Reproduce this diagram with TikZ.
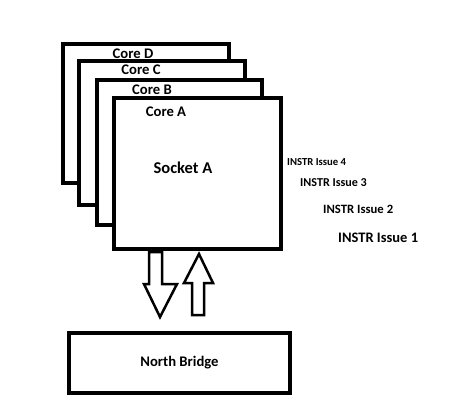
\documentclass[tikz,border=0pt]{standalone}
\usepackage{fontspec}
\setmainfont{Carlito}
\begin{document}
\begin{tikzpicture}[x=1pt,y=-1pt,
  corebox/.style={draw=black,fill=white,line width=4.5pt,line join=miter},
  lbl/.style={font=\bfseries\fontsize{14.67}{16}\selectfont,inner sep=0pt,anchor=center},
  instr/.style={font=\bfseries,inner sep=0pt,anchor=west},
  fatarrow/.style={draw=black,fill=white,line width=2.5pt,line join=miter}]
\useasboundingbox (0,0) rectangle (456,405);
\path[fill=white] (0,0) rectangle (456,405);
% stacked cores
\draw[corebox] (63,44) rectangle (229,183);
\draw[corebox] (79,61) rectangle (245,205);
\draw[corebox] (97,80) rectangle (262,225);
\draw[corebox] (114,98) rectangle (281,249);
\node[lbl] (cd) at (133,54) {Core D};
\node[lbl] (cc) at (141,70) {Core C};
\node[lbl] (cb) at (152,90) {Core B};
\node[lbl] (ca) at (166,112) {Core A};
\node[lbl,font=\bfseries\fontsize{16.5}{18}\selectfont] (sa) at (183,168) {Socket A};
% instruction issue labels
\node[instr,font=\bfseries\fontsize{10.7}{12}\selectfont] (i4) at (287,162) {INSTR Issue 4};
\node[instr,font=\bfseries\fontsize{12.1}{14}\selectfont] (i3) at (300,183) {INSTR Issue 3};
\node[instr,font=\bfseries\fontsize{12.7}{14}\selectfont] (i2) at (323,209) {INSTR Issue 2};
\node[instr,font=\bfseries\fontsize{14.5}{16}\selectfont] (i1) at (338,238) {INSTR Issue 1};
% arrows
\draw[fatarrow] (149,252) -- (162,252) -- (162,284) -- (177,284) -- (160,317) -- (144,284) -- (149,284) -- cycle;
\draw[fatarrow] (192,315) -- (204,315) -- (204,283) -- (213,283) -- (199,254) -- (184,283) -- (192,283) -- cycle;
% north bridge
\node[draw=black,line width=4.5pt,minimum width=221pt,minimum height=60pt,inner sep=0pt,
  font=\bfseries\fontsize{14.67}{16}\selectfont] (nb) at (179.5,363) {North Bridge};
\end{tikzpicture}
\end{document}
